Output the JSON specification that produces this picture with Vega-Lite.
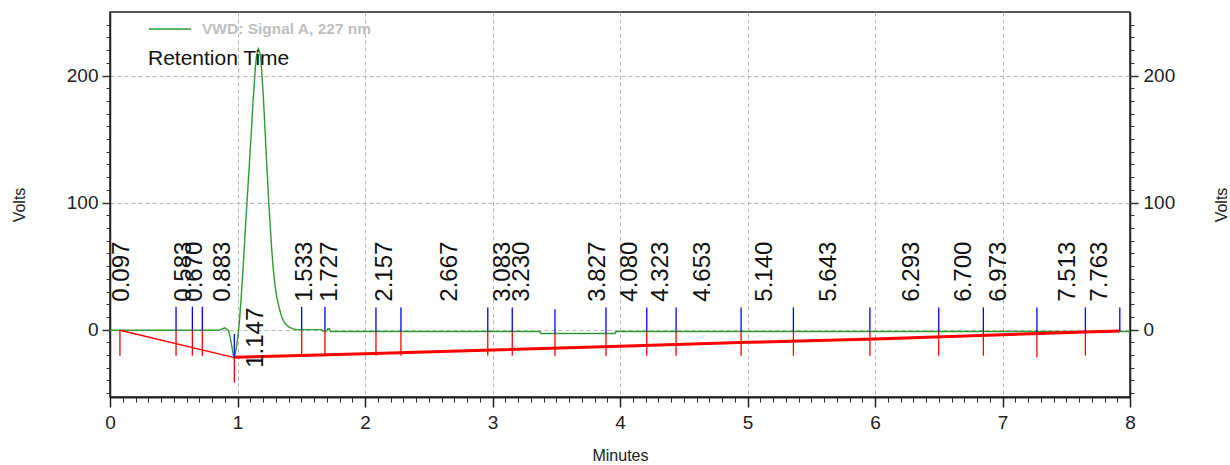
{
  "$schema": "https://vega.github.io/schema/vega-lite/v6.json",
  "width": 1020,
  "height": 385,
  "autosize": {"type": "none"},
  "padding": {"left": 110, "top": 12, "right": 100, "bottom": 68},
  "background": "white",
  "config": {"view": {"stroke": "#222", "strokeWidth": 1.5}, "font": "Liberation Sans"},
  "datasets": {
    "signal": [
      {"t": 0, "v": -0.5}, {"t": 0.5, "v": -0.5}, {"t": 0.85, "v": -0.5}, {"t": 0.88, "v": 0.5},
      {"t": 0.9, "v": 1.5}, {"t": 0.915, "v": 0.5}, {"t": 0.93, "v": -1}, {"t": 0.945, "v": -7},
      {"t": 0.955, "v": -13}, {"t": 0.965, "v": -19}, {"t": 0.973, "v": -22}, {"t": 0.982, "v": -19},
      {"t": 0.993, "v": -13}, {"t": 1.004, "v": -4}, {"t": 1.014, "v": 5}, {"t": 1.03, "v": 27},
      {"t": 1.046, "v": 52}, {"t": 1.065, "v": 85}, {"t": 1.085, "v": 117}, {"t": 1.105, "v": 150},
      {"t": 1.124, "v": 183}, {"t": 1.14, "v": 206}, {"t": 1.15, "v": 216}, {"t": 1.163, "v": 221},
      {"t": 1.172, "v": 219}, {"t": 1.182, "v": 214}, {"t": 1.192, "v": 200}, {"t": 1.203, "v": 183},
      {"t": 1.216, "v": 157}, {"t": 1.229, "v": 131}, {"t": 1.242, "v": 106}, {"t": 1.255, "v": 84},
      {"t": 1.268, "v": 64}, {"t": 1.281, "v": 47}, {"t": 1.294, "v": 35}, {"t": 1.307, "v": 26},
      {"t": 1.327, "v": 17}, {"t": 1.347, "v": 10}, {"t": 1.372, "v": 5}, {"t": 1.398, "v": 2.3},
      {"t": 1.43, "v": 0.8}, {"t": 1.464, "v": 0}, {"t": 1.66, "v": 0}, {"t": 1.67, "v": -1},
      {"t": 1.7, "v": -1}, {"t": 1.71, "v": 0.8}, {"t": 1.72, "v": 0.8}, {"t": 1.73, "v": -1.5},
      {"t": 2.0, "v": -1.5}, {"t": 3.37, "v": -1.5}, {"t": 3.38, "v": -3}, {"t": 3.96, "v": -3},
      {"t": 3.97, "v": -1.5}, {"t": 8, "v": -1.5}
    ],
    "baseline": [
      {"t": 0.078, "v": -0.5, "seg": "a"}, {"t": 0.975, "v": -22, "seg": "a"},
      {"t": 0.975, "v": -21.8, "seg": "b"}, {"t": 2, "v": -19, "seg": "b"}, {"t": 3, "v": -16, "seg": "b"},
      {"t": 4, "v": -13, "seg": "b"}, {"t": 5, "v": -10, "seg": "b"}, {"t": 6, "v": -7.4, "seg": "b"},
      {"t": 7, "v": -4, "seg": "b"}, {"t": 7.65, "v": -1.8, "seg": "b"}, {"t": 7.92, "v": -1, "seg": "b"}
    ],
    "events": [
      {"t": 0.078, "sig": -0.5, "hi": null, "lo": -20.5},
      {"t": 0.518, "sig": -0.5, "hi": 18, "lo": -20.5},
      {"t": 0.646, "sig": -0.5, "hi": 18, "lo": -20.5},
      {"t": 0.724, "sig": -0.5, "hi": 18, "lo": -20.5},
      {"t": 0.975, "sig": -22, "hi": -3.5, "lo": -41.5},
      {"t": 1.503, "sig": 0, "hi": 18, "lo": -20},
      {"t": 1.686, "sig": -0.5, "hi": 18, "lo": -20},
      {"t": 2.086, "sig": -1.5, "hi": 17.5, "lo": -20.5},
      {"t": 2.282, "sig": -1.5, "hi": 17.5, "lo": -20.5},
      {"t": 2.963, "sig": -1.5, "hi": 17.5, "lo": -20.5},
      {"t": 3.155, "sig": -1.5, "hi": 17.5, "lo": -20.5},
      {"t": 3.49, "sig": -3, "hi": 16, "lo": -21},
      {"t": 3.89, "sig": -3, "hi": 17.5, "lo": -21},
      {"t": 4.21, "sig": -1.5, "hi": 17.5, "lo": -20.5},
      {"t": 4.44, "sig": -1.5, "hi": 17.5, "lo": -20.5},
      {"t": 4.95, "sig": -1.5, "hi": 17.5, "lo": -20.5},
      {"t": 5.36, "sig": -1.5, "hi": 17.5, "lo": -20.5},
      {"t": 5.96, "sig": -1.5, "hi": 17.5, "lo": -20.5},
      {"t": 6.5, "sig": -1.5, "hi": 17.5, "lo": -20.5},
      {"t": 6.85, "sig": -1.5, "hi": 17.5, "lo": -20.5},
      {"t": 7.27, "sig": -1.5, "hi": 17.5, "lo": -22},
      {"t": 7.65, "sig": -1.5, "hi": 17.5, "lo": -20.5},
      {"t": 7.92, "sig": -1.5, "hi": 17.5, "lo": null}
    ],
    "peaks": [
      {"t": 0.097}, {"t": 0.583}, {"t": 0.670}, {"t": 0.883}, {"t": 1.147}, {"t": 1.533},
      {"t": 1.727}, {"t": 2.157}, {"t": 2.667}, {"t": 3.083}, {"t": 3.230}, {"t": 3.827},
      {"t": 4.080}, {"t": 4.323}, {"t": 4.653}, {"t": 5.140}, {"t": 5.643}, {"t": 6.293},
      {"t": 6.700}, {"t": 6.973}, {"t": 7.513}, {"t": 7.763}
    ]
  },
  "encoding": {
    "x": {
      "field": "t", "type": "quantitative",
      "scale": {"domain": [0, 8], "nice": false, "zero": false},
      "axis": {
        "title": "Minutes",
        "values": [0,0.1,0.2,0.3,0.4,0.5,0.6,0.7,0.8,0.9,1,1.1,1.2,1.3,1.4,1.5,1.6,1.7,1.8,1.9,2,2.1,2.2,2.3,2.4,2.5,2.6,2.7,2.8,2.9,3,3.1,3.2,3.3,3.4,3.5,3.6,3.7,3.8,3.9,4,4.1,4.2,4.3,4.4,4.5,4.6,4.7,4.8,4.9,5,5.1,5.2,5.3,5.4,5.5,5.6,5.7,5.8,5.9,6,6.1,6.2,6.3,6.4,6.5,6.6,6.7,6.8,6.9,7,7.1,7.2,7.3,7.4,7.5,7.6,7.7,7.8,7.9,8],
        "labelExpr": "abs(datum.value - round(datum.value)) < 0.001 ? format(datum.value, 'd') : ''",
        "labelFont": "Liberation Sans",
        "labelFontSize": 19, "labelColor": "#222", "labelPadding": 6,
        "labelOverlap": false, "labelFlush": false, "labelBound": false,
        "tickColor": "#222",
        "tickSize": {"condition": {"test": "abs(datum.value - round(datum.value)) < 0.001", "value": 10}, "value": 5},
        "tickWidth": {"condition": {"test": "abs(datum.value - round(datum.value)) < 0.001", "value": 1.5}, "value": 1},
        "domainColor": "#222", "domainWidth": 2,
        "grid": true, "gridColor": "#b5b5b5", "gridDash": [4, 3], "gridWidth": 1,
        "gridOpacity": {"condition": {"test": "abs(datum.value - round(datum.value)) < 0.001", "value": 1}, "value": 0},
        "titleFont": "Liberation Sans",
        "titleFontSize": 16, "titleFontWeight": "normal", "titleColor": "#222", "titlePadding": 15
      }
    }
  },
  "layer": [
    {
      "data": {"name": "signal"},
      "mark": {"type": "line", "strokeWidth": 1.4},
      "encoding": {
        "y": {
          "field": "v", "type": "quantitative",
          "scale": {"domain": [-53, 250], "nice": false, "zero": false},
          "axis": {
            "title": "Volts", "orient": "left",
            "values": [-50,-40,-30,-20,-10,0,10,20,30,40,50,60,70,80,90,100,110,120,130,140,150,160,170,180,190,200,210,220,230,240],
            "labelExpr": "datum.value % 100 === 0 ? format(datum.value, 'd') : ''",
            "labelFont": "Liberation Sans",
            "labelFontSize": 19, "labelColor": "#222", "labelPadding": 4,
            "labelOverlap": false, "labelFlush": false, "labelBound": false,
            "tickColor": "#333",
            "tickSize": {"condition": {"test": "datum.value % 100 === 0", "value": 8}, "value": 4},
            "tickWidth": {"condition": {"test": "datum.value % 100 === 0", "value": 1.5}, "value": 1},
            "domainColor": "#222", "domainWidth": 1.5,
            "grid": true, "gridColor": "#b5b5b5", "gridDash": [4, 3], "gridWidth": 1,
            "gridOpacity": {"condition": {"test": "datum.value % 100 === 0", "value": 1}, "value": 0},
            "titleFont": "Liberation Sans", "titleFontSize": 16, "titleFontWeight": "normal",
            "titleColor": "#222", "titlePadding": 39
          }
        },
        "color": {
          "datum": "VWD: Signal A, 227 nm", "type": "nominal",
          "scale": {"range": ["#2f9a2f"]},
          "legend": {
            "orient": "none", "legendX": 38, "legendY": -5,
            "title": "Retention Time", "titleOrient": "bottom", "titleAnchor": "start",
            "titleFont": "Liberation Sans",
            "titleFontSize": 21, "titleFontWeight": "normal", "titleColor": "#111", "titlePadding": 10,
            "titleLimit": 400,
            "symbolType": "stroke", "symbolSize": 1764, "symbolStrokeWidth": 1.5,
            "labelFont": "Liberation Sans", "labelLimit": 400,
            "labelFontSize": 15.5, "labelFontWeight": "bold", "labelColor": "#bfbfbf", "labelOffset": 10,
            "padding": 0
          }
        }
      }
    },
    {
      "data": {"name": "baseline"},
      "transform": [{"filter": "datum.seg === 'a'"}],
      "mark": {"type": "line", "color": "#ff0000", "strokeWidth": 1.5},
      "encoding": {
        "y": {
          "field": "v", "type": "quantitative",
          "axis": {
            "title": "Volts", "orient": "right",
            "values": [-50,-40,-30,-20,-10,0,10,20,30,40,50,60,70,80,90,100,110,120,130,140,150,160,170,180,190,200,210,220,230,240],
            "labelExpr": "datum.value % 100 === 0 ? format(datum.value, 'd') : ''",
            "labelFont": "Liberation Sans",
            "labelFontSize": 19, "labelColor": "#222", "labelPadding": 5,
            "labelOverlap": false, "labelFlush": false, "labelBound": false,
            "tickColor": "#333",
            "tickSize": {"condition": {"test": "datum.value % 100 === 0", "value": 8}, "value": 4},
            "tickWidth": {"condition": {"test": "datum.value % 100 === 0", "value": 1.5}, "value": 1},
            "domainColor": "#222", "domainWidth": 1.5, "grid": false,
            "titleFont": "Liberation Sans", "titleFontSize": 16, "titleFontWeight": "normal",
            "titleColor": "#222", "titlePadding": 55, "titleAngle": 270
          }
        }
      }
    },
    {
      "data": {"name": "baseline"},
      "transform": [{"filter": "datum.seg === 'b'"}],
      "mark": {"type": "line", "color": "#ff0000", "strokeWidth": 3},
      "encoding": {
        "y": {"field": "v", "type": "quantitative", "axis": null}
      }
    },
    {
      "data": {"name": "events"},
      "transform": [{"filter": "isValid(datum.hi)"}],
      "mark": {"type": "rule", "color": "#0000ff", "strokeWidth": 1.3},
      "encoding": {
        "y": {"field": "sig", "type": "quantitative", "axis": null},
        "y2": {"field": "hi"}
      }
    },
    {
      "data": {"name": "events"},
      "transform": [{"filter": "isValid(datum.lo)"}],
      "mark": {"type": "rule", "color": "#ff0000", "strokeWidth": 1.3},
      "encoding": {
        "y": {"field": "sig", "type": "quantitative", "axis": null},
        "y2": {"field": "lo"}
      }
    },
    {
      "data": {"name": "peaks"},
      "transform": [{"filter": "datum.t !== 1.147"}],
      "mark": {"type": "text", "angle": 270, "align": "left", "baseline": "middle", "font": "Liberation Sans", "fontSize": 24, "color": "#111"},
      "encoding": {
        "y": {"datum": 22, "type": "quantitative", "axis": null},
        "text": {"field": "t", "type": "quantitative", "format": ".3f"}
      }
    },
    {
      "data": {"name": "peaks"},
      "transform": [{"filter": "datum.t === 1.147"}],
      "mark": {"type": "text", "angle": 270, "align": "left", "baseline": "middle", "font": "Liberation Sans", "fontSize": 24, "color": "#111"},
      "encoding": {
        "y": {"datum": -30, "type": "quantitative", "axis": null},
        "text": {"field": "t", "type": "quantitative", "format": ".3f"}
      }
    }
  ],
  "resolve": {"axis": {"y": "independent"}}
}
